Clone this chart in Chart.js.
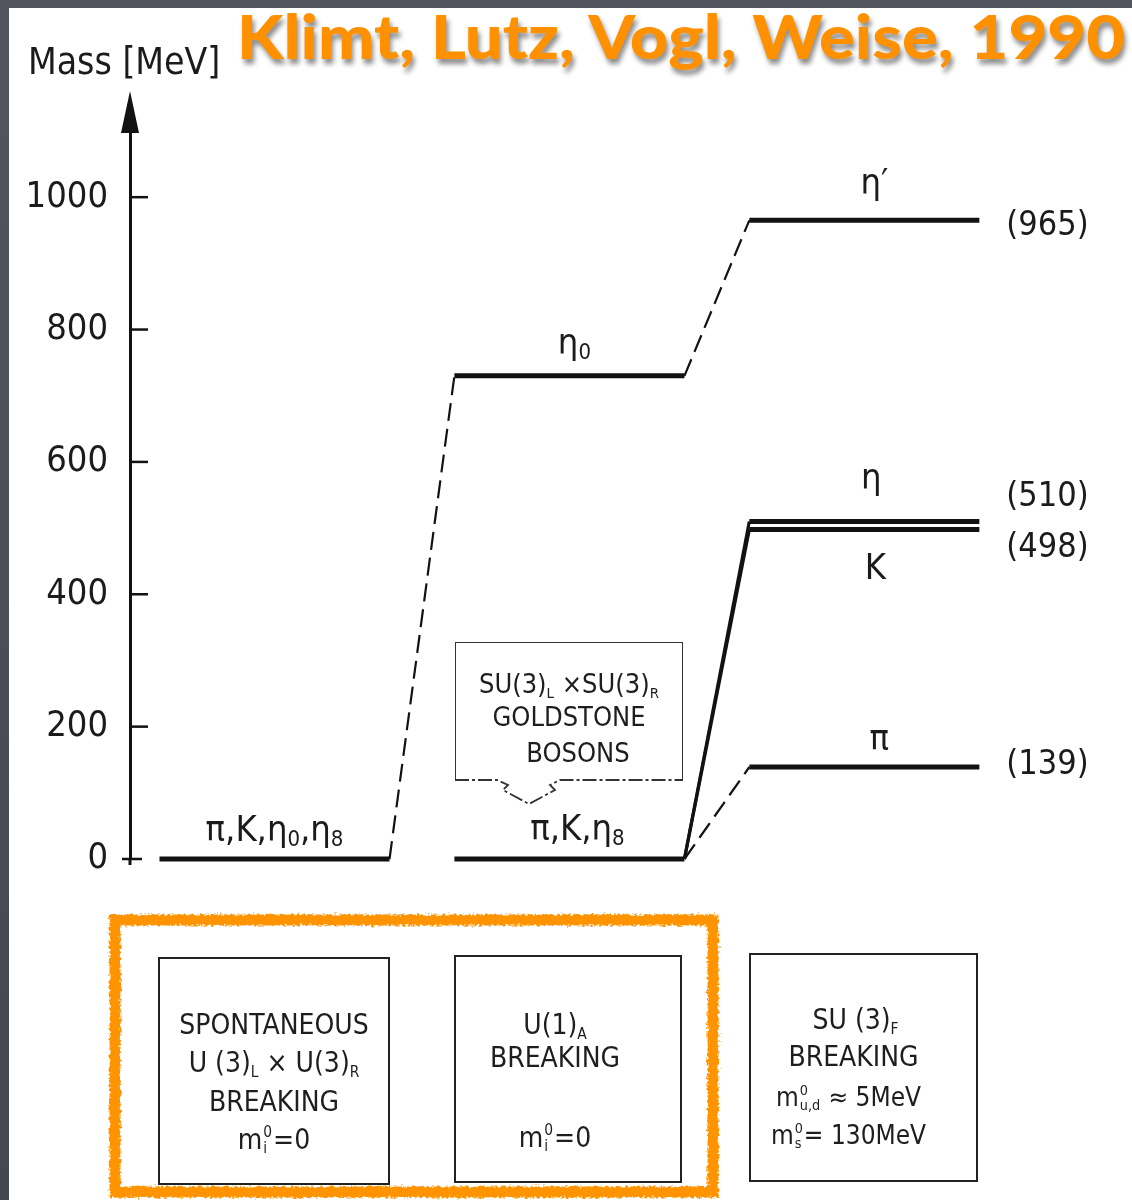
<!DOCTYPE html>
<html>
<head>
<meta charset="utf-8">
<title>Pseudoscalar meson masses and symmetry breaking</title>
<script src="https://cdn.jsdelivr.net/npm/chart.js@4.4.1/dist/chart.umd.min.js"></script>
<style>
  html, body { margin: 0; padding: 0; }
  body { width: 1132px; height: 1200px; position: relative; overflow: hidden;
         background: linear-gradient(180deg, #52555e 0%, #44474f 100%); }
  #paper { position: absolute; left: 9px; top: 8px; right: 0; bottom: 0; background: #fff; }
  #plot { position: absolute; left: 0; top: 0; }
  .t { position: absolute; white-space: nowrap; color: #1b1b1b;
       font-family: "DejaVu Sans Condensed", "DejaVu Sans", sans-serif; font-stretch: condensed; }
  #title { left: 237px; top: 6px; font-family: Lato, "Open Sans", sans-serif; font-weight: 900;
           font-size: 60px; line-height: 60px; color: #ff9000; transform-origin: 0 0;
           text-shadow: 2px 5px 5px rgba(0,0,0,0.45); }
  #ylab { left: 28px; top: 42px; font-size: 37px; line-height: 40px; }
  .box { position: absolute; box-sizing: border-box; border: 2.5px solid #222; }
  .ln { position: absolute; left: 0; width: 100%; text-align: center; white-space: nowrap;
        font-family: "DejaVu Sans Condensed", "DejaVu Sans", sans-serif; font-stretch: condensed;
        font-size: 28px; line-height: 36px; color: #1e1e1e; }
  .ln sub { font-size: 0.55em; vertical-align: -0.35em; line-height: 0; }
  .st { display: inline-block; vertical-align: -0.25em; font-size: 0.55em; line-height: 1.05; text-align: left; margin: 0 1px; }
  .st b { display: block; font-weight: normal; }
  #frame { position: absolute; left: 0; top: 0; }
</style>
</head>
<body>
<div id="paper"></div>

<svg id="frame" width="1132" height="1200">
  <defs>
    <filter id="rough" x="-5%" y="-5%" width="110%" height="110%">
      <feTurbulence type="fractalNoise" baseFrequency="0.35" numOctaves="2" seed="3" result="n"/>
      <feDisplacementMap in="SourceGraphic" in2="n" scale="6" xChannelSelector="R" yChannelSelector="G"/>
    </filter>
  </defs>
  <rect x="115" y="920" width="598" height="272" fill="none" stroke="#ff9400" stroke-width="11" filter="url(#rough)"/>
  <!-- lower edge of the Goldstone box with its notch pointing at the level below -->
  <path d="M455 780 H497 L508 785 L503 790 L529 804 L555 790 L550 785 L560 780 H683"
        fill="none" stroke="#333" stroke-width="1.8" stroke-dasharray="14 3 3 3"/>
</svg>

<canvas id="plot" width="1132" height="1200"></canvas>

<div id="title" class="t">Klimt, Lutz, Vogl, Weise, 1990</div>
<div id="ylab" class="t">Mass [MeV]</div>

<div class="box" style="left:455px;top:642px;width:228px;height:139px;border-width:1.6px;border-color:#333;border-bottom:none;">
  <div class="ln" style="top:23px;font-size:27px;">SU(3)<sub>L</sub> ×SU(3)<sub>R</sub></div>
  <div class="ln" style="top:56px;font-size:27px;">GOLDSTONE</div>
  <div class="ln" style="top:92px;font-size:27px;padding-left:18px;box-sizing:border-box;">BOSONS</div>
</div>

<div class="box" style="left:158px;top:957px;width:232px;height:228px;">
  <div class="ln" style="top:48px;">SPONTANEOUS</div>
  <div class="ln" style="top:86px;">U (3)<sub>L</sub> × U(3)<sub>R</sub></div>
  <div class="ln" style="top:125px;">BREAKING</div>
  <div class="ln" style="top:163px;">m<span class="st"><b>0</b><b>i</b></span>=0</div>
</div>

<div class="box" style="left:454px;top:955px;width:228px;height:228px;">
  <div class="ln" style="top:50px;padding-right:26px;box-sizing:border-box;">U(1)<sub>A</sub></div>
  <div class="ln" style="top:83px;padding-right:26px;box-sizing:border-box;">BREAKING</div>
  <div class="ln" style="top:163px;padding-right:26px;box-sizing:border-box;">m<span class="st"><b>0</b><b>i</b></span>=0</div>
</div>

<div class="box" style="left:749px;top:953px;width:229px;height:229px;">
  <div class="ln" style="top:47px;padding-right:16px;box-sizing:border-box;">SU (3)<sub>F</sub></div>
  <div class="ln" style="top:84px;padding-right:20px;box-sizing:border-box;">BREAKING</div>
  <div class="ln" style="top:124px;padding-right:30px;box-sizing:border-box;font-size:26px;">m<span class="st"><b>0</b><b>u,d</b></span> ≈ 5MeV</div>
  <div class="ln" style="top:162px;padding-right:30px;box-sizing:border-box;font-size:26px;">m<span class="st"><b>0</b><b>s</b></span>= 130MeV</div>
</div>

<script>
// ---- meson levels at each symmetry-breaking stage ----
const levelNames = ['π,K,η₀,η₈', 'η₀', 'π,K,η₈', 'η′', 'η', 'K', 'π'];
const levelStage = [0, 1, 1, 2, 2, 2, 2];
const levelMass  = [0, 730, 0, 965, 510, 498, 139];

// which level moves into which one at the next stage
const transitionFrom = [0, 1, 2, 2, 2];
const transitionTo   = [1, 3, 4, 5, 6];

const massTicks = [0, 200, 400, 600, 800, 1000];

// ---- drawing style ----
const LEVEL_LEN = 0.78;                       // length of a level bar, in stage units
const INK = '#121212';
const transitionDash  = [[18, 8], [18, 8], [], [], [18, 8]];
const transitionWidth = [2.2, 2.2, 3.2, 3.2, 2.2];
const nameOffset  = [[0, -27], [5, -31], [8, -28], [10, -36], [7, -42], [11, 40], [15, -26]];
const valueOffset = [0, 0, 0, 6, -24, 19, -2];
const FONT = '"DejaVu Sans Condensed", "DejaVu Sans", sans-serif';
const SUB_DIGITS = '₀₁₂₃₄₅₆₇₈₉';

// draw a label whose subscript digits are set smaller and lowered
function drawRichLabel(ctx, text, cx, cy, size) {
  const parts = [];
  for (const ch of text) {
    const k = SUB_DIGITS.indexOf(ch);
    parts.push(k >= 0 ? { t: String(k), sub: true } : { t: ch, sub: false });
  }
  const fontFor = p => (p.sub ? Math.round(size * 0.62) : size) + 'px ' + FONT;
  let total = 0;
  parts.forEach(p => { ctx.font = fontFor(p); p.w = ctx.measureText(p.t).width; total += p.w; });
  let x = cx - total / 2;
  ctx.textAlign = 'left';
  parts.forEach(p => {
    ctx.font = fontFor(p);
    ctx.fillText(p.t, x, cy + (p.sub ? size * 0.22 : 0));
    x += p.w;
  });
}

const datasets = [];
levelMass.forEach((m, i) => {
  const s = levelStage[i];
  datasets.push({
    label: levelNames[i],
    data: [{ x: s, y: m }, { x: s + LEVEL_LEN, y: m }],
    borderColor: INK, borderWidth: 5, borderCapStyle: 'butt',
    pointRadius: 0, tension: 0, clip: false
  });
});
transitionFrom.forEach((f, k) => {
  const t = transitionTo[k];
  datasets.push({
    label: levelNames[f] + ' → ' + levelNames[t],
    data: [{ x: levelStage[f] + LEVEL_LEN, y: levelMass[f] }, { x: levelStage[t], y: levelMass[t] }],
    borderColor: INK, borderWidth: transitionWidth[k], borderDash: transitionDash[k],
    pointRadius: 0, tension: 0, clip: false
  });
});

// axis arrow, inward ticks, level names and quoted masses
const diagramPlugin = {
  id: 'levelDiagram',
  afterDraw(chart) {
    const { ctx, chartArea } = chart;
    const xs = chart.scales.x, ys = chart.scales.y;
    const ax = chartArea.left;
    ctx.save();
    ctx.strokeStyle = INK;
    ctx.fillStyle = INK;
    ctx.lineWidth = 3;
    // axis stub below zero
    ctx.beginPath();
    ctx.moveTo(ax, chartArea.bottom);
    ctx.lineTo(ax, chartArea.bottom + 6);
    ctx.stroke();
    // arrow head
    ctx.beginPath();
    ctx.moveTo(ax, chartArea.top - 40);
    ctx.lineTo(ax - 9, chartArea.top + 2);
    ctx.lineTo(ax + 9, chartArea.top + 2);
    ctx.closePath();
    ctx.fill();
    // tick marks pointing into the plot
    ctx.lineWidth = 2.5;
    massTicks.forEach(v => {
      const py = ys.getPixelForValue(v);
      ctx.beginPath();
      if (v === 0) { ctx.moveTo(ax - 8, py); ctx.lineTo(ax + 12, py); }
      else { ctx.moveTo(ax, py); ctx.lineTo(ax + 18, py); }
      ctx.stroke();
    });
    // level names
    ctx.fillStyle = '#1b1b1b';
    ctx.textBaseline = 'middle';
    levelNames.forEach((name, i) => {
      const s = levelStage[i];
      const cx = (xs.getPixelForValue(s) + xs.getPixelForValue(s + LEVEL_LEN)) / 2 + nameOffset[i][0];
      const cy = ys.getPixelForValue(levelMass[i]) + nameOffset[i][1];
      drawRichLabel(ctx, name, cx, cy, 36);
    });
    // physical masses at the last stage
    ctx.textAlign = 'left';
    ctx.font = '34px ' + FONT;
    levelMass.forEach((m, i) => {
      if (levelStage[i] !== 2) return;
      const px = xs.getPixelForValue(2 + LEVEL_LEN) + 27;
      const py = ys.getPixelForValue(m) + valueOffset[i];
      ctx.fillText('(' + m + ')', px, py);
    });
    ctx.restore();
  }
};

new Chart(document.getElementById('plot'), {
  type: 'line',
  data: { datasets },
  options: {
    responsive: false,
    animation: false,
    events: [],
    layout: { padding: { left: 0, top: 131, right: 132, bottom: 341 } },
    plugins: { legend: { display: false }, tooltip: { enabled: false }, title: { display: false } },
    scales: {
      x: { type: 'linear', display: false, min: -0.1, max: 2.85 },
      y: {
        type: 'linear', min: 0, max: 1100,
        afterFit(scale) { scale.width = 130; },
        afterBuildTicks(scale) { scale.ticks = massTicks.map(v => ({ value: v })); },
        grid: { drawOnChartArea: false, drawTicks: false },
        border: { display: true, color: INK, width: 3 },
        ticks: { padding: 22, color: '#1b1b1b', font: { family: FONT, size: 36 },
                 callback: v => String(v) }
      }
    }
  },
  plugins: [diagramPlugin]
});

// stretch the citation to its column width
const title = document.getElementById('title');
const tw = title.getBoundingClientRect().width;
title.style.transform = 'scaleX(' + (888 / tw) + ')';
</script>
</body>
</html>
